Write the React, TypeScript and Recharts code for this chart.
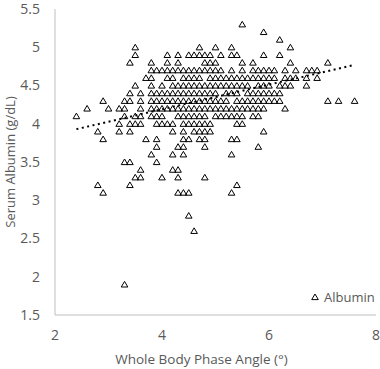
import React from 'react';
import { ScatterChart, Scatter, XAxis, YAxis } from 'recharts';

// albumin (g/dL) levels, and the phase angles (°) measured at each level
const albuminLevels = [5.3, 5.2, 5.1, 5.0, 4.9, 4.8, 4.7, 4.6, 4.5, 4.4, 4.3, 4.2, 4.1, 4.0, 3.9, 3.8, 3.7, 3.6, 3.5, 3.4, 3.3, 3.2, 3.1, 2.8, 2.6, 1.9];
const phaseAngles = [
  [5.5],
  [5.9],
  [6.2],
  [3.5, 4.7, 5.0, 5.3, 6.4],
  [3.5, 4.1, 4.3, 4.5, 4.6, 4.7, 4.8, 4.9, 5.1, 5.3, 5.4, 5.9, 6.2],
  [3.4, 3.8, 4.1, 4.3, 4.8, 4.9, 5.0, 5.5, 5.7, 6.4, 7.1],
  [3.8, 3.9, 4.0, 4.1, 4.2, 4.3, 4.4, 4.5, 4.6, 4.7, 4.8, 4.9, 5.0, 5.1, 5.3, 5.5, 5.7, 5.8, 5.9, 6.0, 6.1, 6.3, 6.5, 6.7, 6.8, 6.9],
  [3.7, 3.8, 4.1, 4.2, 4.4, 4.5, 4.6, 4.7, 4.9, 5.0, 5.1, 5.2, 5.3, 5.4, 5.5, 5.6, 5.7, 5.8, 5.9, 6.0, 6.1, 6.3, 6.4, 6.5, 6.7, 6.9],
  [3.5, 3.8, 4.0, 4.2, 4.3, 4.4, 4.5, 4.6, 4.7, 4.8, 4.9, 5.0, 5.1, 5.2, 5.3, 5.4, 5.5, 5.6, 5.8, 5.9, 6.0, 6.2, 6.3, 6.4, 6.7],
  [3.4, 3.6, 3.8, 3.9, 4.0, 4.1, 4.2, 4.3, 4.4, 4.5, 4.6, 4.7, 4.8, 4.9, 5.0, 5.2, 5.3, 5.4, 5.6, 5.7, 5.8, 5.9, 6.0, 6.1, 6.2],
  [2.9, 3.3, 3.4, 3.6, 3.8, 3.9, 4.0, 4.1, 4.2, 4.3, 4.4, 4.5, 4.6, 4.7, 4.8, 4.9, 5.0, 5.1, 5.2, 5.4, 5.5, 5.6, 5.7, 5.8, 5.9, 6.0, 6.1, 6.2, 7.1, 7.3, 7.6],
  [2.6, 3.0, 3.2, 3.3, 3.6, 3.8, 3.9, 4.0, 4.1, 4.2, 4.3, 4.4, 4.5, 4.6, 4.7, 4.8, 4.9, 5.0, 5.1, 5.2, 5.3, 5.4, 5.5, 5.6, 5.7, 5.8, 5.9, 6.3],
  [2.4, 3.3, 3.5, 3.6, 3.8, 3.9, 4.0, 4.3, 4.4, 4.5, 4.6, 4.7, 4.8, 5.0, 5.1, 5.2, 5.3, 5.4, 5.5, 5.7, 5.8],
  [3.2, 3.4, 3.5, 3.6, 3.9, 4.0, 4.1, 4.2, 4.4, 4.5, 4.6, 4.7, 4.8, 4.9, 5.4, 5.5],
  [2.8, 3.2, 3.4, 4.2, 4.4, 4.6, 4.7, 4.8, 4.9, 5.9],
  [2.9, 3.7, 3.9, 4.4, 4.5, 4.7, 4.8, 5.3, 5.4],
  [3.9, 4.3, 4.4, 4.8, 5.8],
  [3.8, 4.2, 4.4, 5.3],
  [3.3, 3.4, 3.9],
  [3.6, 4.2, 4.3],
  [3.5, 3.6, 4.0, 4.3, 4.8],
  [2.8, 3.4, 5.4],
  [2.9, 4.3, 4.4, 4.5, 5.3],
  [4.5],
  [4.6],
  [3.3],
];

// linear trendline end points
const trendX = [2.4, 7.6];
const trendY = [3.93, 4.77];

const xTicks = [2, 4, 6, 8];
const yTicks = [1.5, 2, 2.5, 3, 3.5, 4, 4.5, 5, 5.5];

const points = albuminLevels.flatMap((alb, i) => phaseAngles[i].map((pa) => ({ x: pa, y: alb })));
const trend = trendX.map((x, i) => ({ x, y: trendY[i] }));

const FONT = '"Open Sans", sans-serif';
const GREY = '#595959';

const Triangle = (props: any) => {
  const { cx, cy } = props;
  return (
    <polygon
      points={`${cx},${cy - 3} ${cx + 3.3},${cy + 2.6} ${cx - 3.3},${cy + 2.6}`}
      fill="none"
      stroke="#000"
      strokeWidth={1}
    />
  );
};

// excel centres the x title on the whole chart, not on the plot
const XTitle = (props: any) => {
  const { viewBox } = props;
  return (
    <text x={viewBox.x + viewBox.width / 2 - 14} y={viewBox.y + viewBox.height - 5} textAnchor="middle" fill={GREY} fontSize={13.5} fontFamily={FONT}>
      Whole Body Phase Angle (°)
    </text>
  );
};

export default function App() {
  return (
    <div style={{ position: 'absolute', left: 0, top: 0, width: 380, height: 369, background: '#fff', fontFamily: FONT }}>
      <ScatterChart width={380} height={369} margin={{ top: 9, right: 4, bottom: 0, left: 10 }}>
        <XAxis
          type="number"
          dataKey="x"
          domain={[2, 8]}
          ticks={xTicks}
          tickLine={false}
          tickSize={0}
          tickMargin={15}
          height={54}
          axisLine={{ stroke: '#bfbfbf' }}
          tick={{ fill: GREY, fontSize: 14, fontFamily: FONT }}
          label={<XTitle />}
        />
        <YAxis
          type="number"
          dataKey="y"
          domain={[1.5, 5.5]}
          ticks={yTicks}
          tickLine={false}
          tickSize={0}
          tickMargin={15}
          width={45}
          axisLine={{ stroke: '#bfbfbf' }}
          tick={{ fill: GREY, fontSize: 14, fontFamily: FONT }}
          label={{ value: 'Serum Albumin (g/dL)', angle: -90, position: 'insideLeft', offset: 0, fill: GREY, fontSize: 13, fontFamily: FONT, style: { textAnchor: 'middle' } }}
        />
        <Scatter data={points} shape={Triangle} isAnimationActive={false} />
        <Scatter
          data={trend}
          line={{ stroke: '#000', strokeWidth: 2, strokeDasharray: '2 3.5' }}
          shape={() => <g />}
          legendType="none"
          isAnimationActive={false}
        />
      </ScatterChart>
      <div style={{ position: 'absolute', left: 310, top: 288, display: 'flex', alignItems: 'center', color: GREY, fontSize: 13 }}>
        <svg width={10} height={10} style={{ marginRight: 4 }}>
          <polygon points="5,2 8.3,7.6 1.7,7.6" fill="none" stroke="#000" strokeWidth={1} />
        </svg>
        Albumin
      </div>
    </div>
  );
}
